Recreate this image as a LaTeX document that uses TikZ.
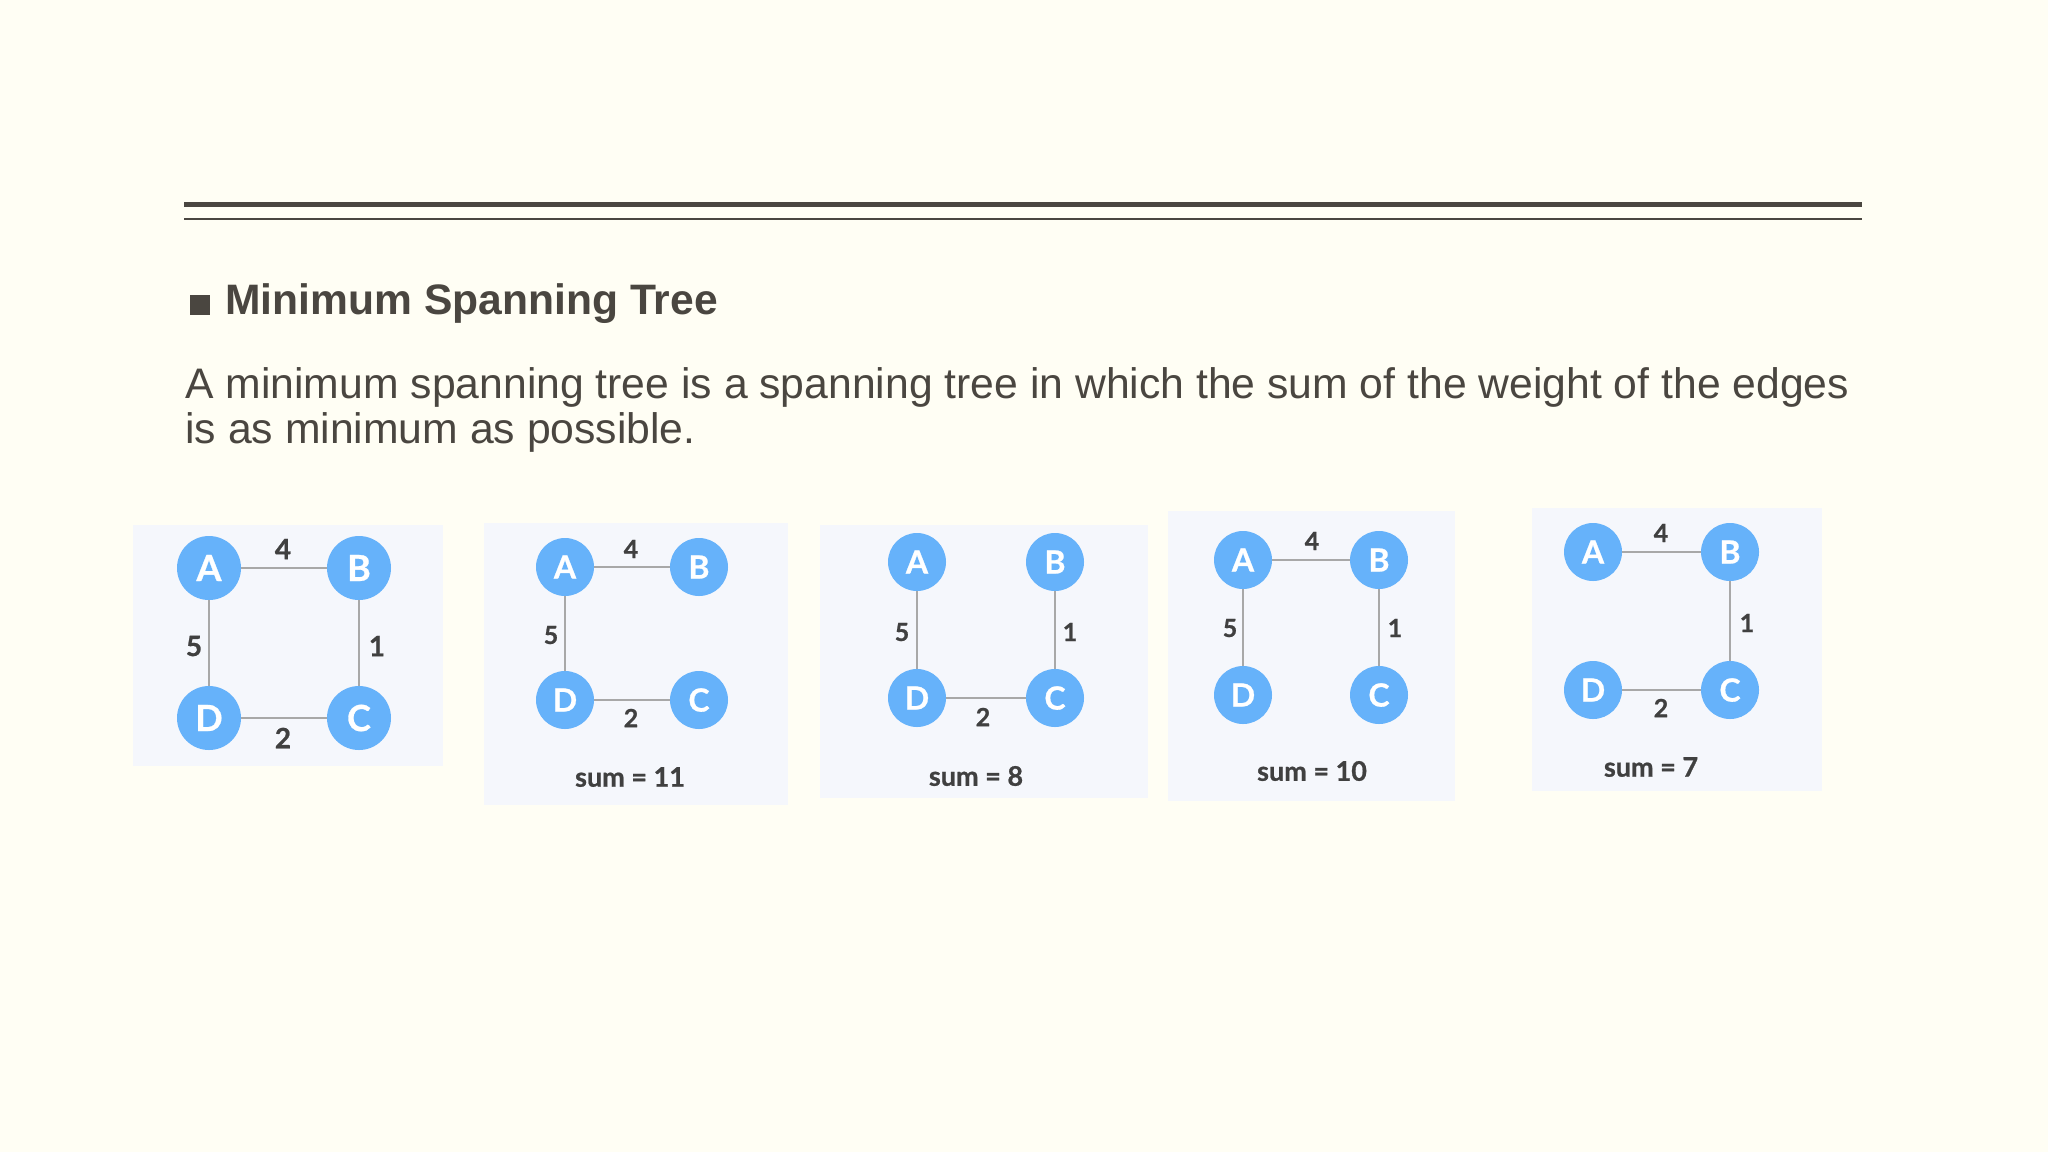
\documentclass[tikz,border=0pt]{standalone}
\usepackage{fontspec}
\setmainfont{Liberation Sans}
\newfontfamily\latof{Lato}[BoldFeatures={FakeBold=0.8}]
\definecolor{bgc}{HTML}{FFFEF4}
\definecolor{inkc}{HTML}{4A4640}
\definecolor{panelc}{HTML}{F5F7FC}
\definecolor{vtxc}{HTML}{66B2FA}
\definecolor{edgec}{HTML}{A8A8A8}
\definecolor{lblc}{HTML}{404040}
\tikzset{
  vtx/.style={circle, fill=vtxc, draw=none, inner sep=0pt, minimum size=29pt, text=white, font=\latof\bfseries\fontsize{16}{16}\selectfont},
  bigvtx/.style={vtx, minimum size=32pt, font=\latof\bfseries\fontsize{18}{18}\selectfont},
  edge/.style={draw=edgec, line width=1pt},
  wt/.style={inner sep=0pt, text=lblc, font=\latof\bfseries\fontsize{12.5}{12.5}\selectfont},
  bigwt/.style={wt, font=\latof\bfseries\fontsize{14}{14}\selectfont},
  sumlbl/.style={inner sep=0pt, text=lblc, font=\latof\bfseries\fontsize{13.5}{13.5}\selectfont},
}
\begin{document}
\begin{tikzpicture}[x=0.5pt, y=-0.5pt]
\fill[bgc] (0,0) rectangle (2048,1152);
\useasboundingbox (0,0) rectangle (2048,1152);
% rules
\coordinate (r1a) at (184,204.5); \coordinate (r1b) at (1862,204.5);
\coordinate (r2a) at (184,219); \coordinate (r2b) at (1862,219);
\draw[inkc, line width=2.5pt] (r1a) -- (r1b);
\draw[inkc, line width=1pt] (r2a) -- (r2b);
% title
\fill[inkc] (190,295) rectangle (210,315);
\node[anchor=base west, inner sep=0pt, text=inkc, font=\bfseries\fontsize{21.3}{21.3}\selectfont] (title) at (225,314) {Minimum Spanning Tree};
\node[anchor=base west, inner sep=0pt, text=inkc, font=\fontsize{21.35}{21.35}\selectfont] (bodyA) at (185,398) {A minimum spanning tree is a spanning tree in which the sum of the weight of the edges};
\node[anchor=base west, inner sep=0pt, text=inkc, font=\fontsize{21.35}{21.35}\selectfont] (bodyB) at (185,443) {is as minimum as possible.};
% panel 1
\fill[panelc] (133,525) rectangle (443,766);
\node[bigvtx] (a1) at (209,568) {A};
\node[bigvtx] (b1) at (359,568) {B};
\node[bigvtx] (c1) at (359,718) {C};
\node[bigvtx] (d1) at (209,718) {D};
\draw[edge] (a1) -- (b1);
\draw[edge] (b1) -- (c1);
\draw[edge] (d1) -- (c1);
\draw[edge] (a1) -- (d1);
\node[bigwt] (w4p1) at (283,549) {4};
\node[bigwt] (w5p1) at (194,646) {5};
\node[bigwt] (w1p1) at (377,646) {1};
\node[bigwt] (w2p1) at (283,738) {2};
% panel 2
\fill[panelc] (484,523) rectangle (788,805);
\node[vtx] (a2) at (565,567) {A};
\node[vtx] (b2) at (699,567) {B};
\node[vtx] (c2) at (699,700) {C};
\node[vtx] (d2) at (565,700) {D};
\draw[edge] (a2) -- (b2);
\draw[edge] (a2) -- (d2);
\draw[edge] (d2) -- (c2);
\node[wt] (w4p2) at (631,549) {4};
\node[wt] (w5p2) at (551,635) {5};
\node[wt] (w2p2) at (631,718) {2};
\node[sumlbl] (s2) at (630,777) {sum = 11};
% panel 3
\fill[panelc] (820,525) rectangle (1148,798);
\node[vtx] (a3) at (917,562) {A};
\node[vtx] (b3) at (1055,562) {B};
\node[vtx] (c3) at (1055,698) {C};
\node[vtx] (d3) at (917,698) {D};
\draw[edge] (a3) -- (d3);
\draw[edge] (b3) -- (c3);
\draw[edge] (d3) -- (c3);
\node[wt] (w5p3) at (902,632) {5};
\node[wt] (w1p3) at (1070,632) {1};
\node[wt] (w2p3) at (983,717) {2};
\node[sumlbl] (s3) at (976,776) {sum = 8};
% panel 4
\fill[panelc] (1168,511) rectangle (1455,801);
\node[vtx] (a4) at (1243,560) {A};
\node[vtx] (b4) at (1379,560) {B};
\node[vtx] (c4) at (1379,695) {C};
\node[vtx] (d4) at (1243,695) {D};
\draw[edge] (a4) -- (b4);
\draw[edge] (a4) -- (d4);
\draw[edge] (b4) -- (c4);
\node[wt] (w4p4) at (1312,541) {4};
\node[wt] (w5p4) at (1230,628) {5};
\node[wt] (w1p4) at (1395,628) {1};
\node[sumlbl] (s4) at (1312,771) {sum = 10};
% panel 5
\fill[panelc] (1532,508) rectangle (1822,791);
\node[vtx] (a5) at (1593,552) {A};
\node[vtx] (b5) at (1730,552) {B};
\node[vtx] (c5) at (1730,690) {C};
\node[vtx] (d5) at (1593,690) {D};
\draw[edge] (a5) -- (b5);
\draw[edge] (b5) -- (c5);
\draw[edge] (d5) -- (c5);
\node[wt] (w4p5) at (1661,533) {4};
\node[wt] (w1p5) at (1747,623) {1};
\node[wt] (w2p5) at (1661,708) {2};
\node[sumlbl] (s5) at (1651,767) {sum = 7};
\end{tikzpicture}
\end{document}
